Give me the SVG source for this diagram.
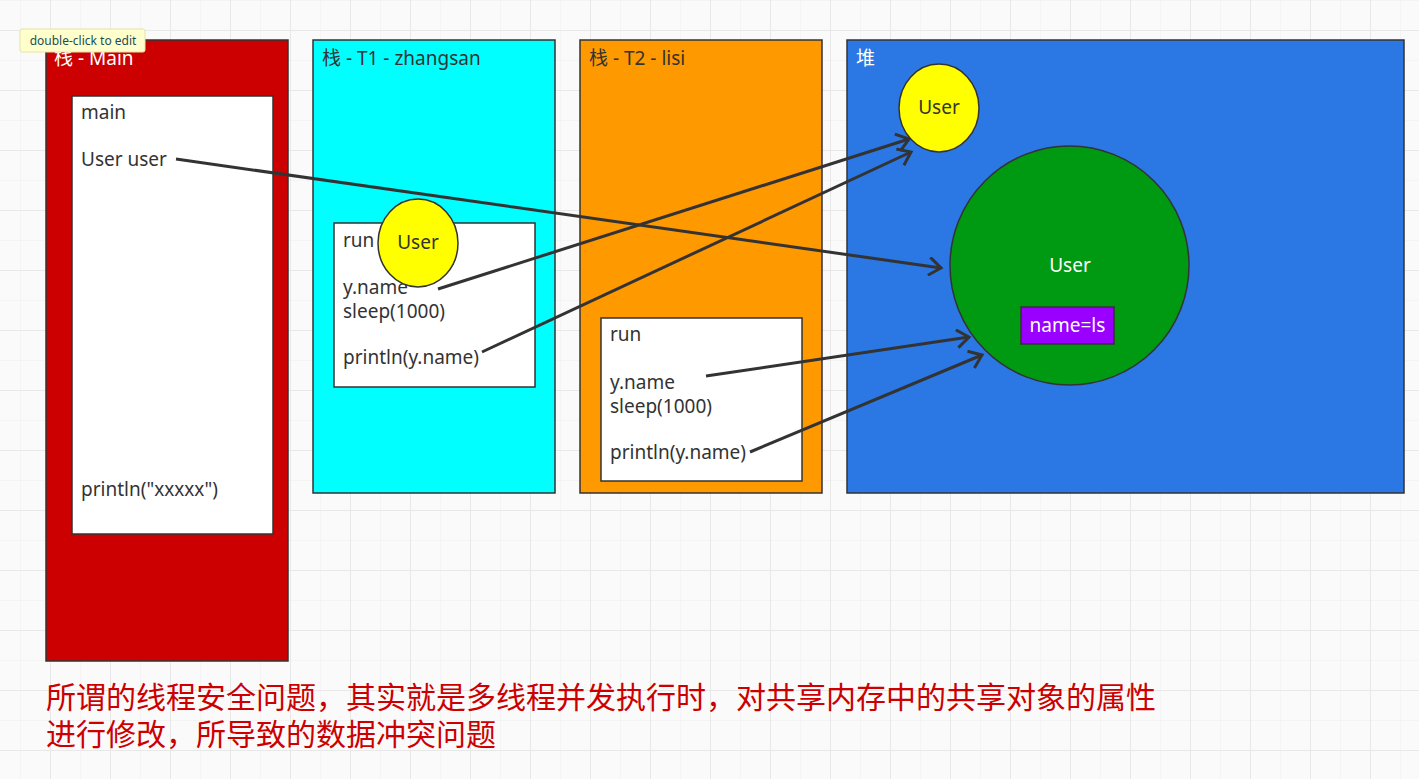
<svg xmlns="http://www.w3.org/2000/svg" width="1419" height="779" viewBox="0 0 1419 779">
<defs>
<pattern id="gMinor" x="20" y="0" width="30" height="30" patternUnits="userSpaceOnUse">
<path d="M0,0 V30 M0,0 H30" fill="none" stroke="#eeeeee" stroke-width="1"/>
</pattern>
<pattern id="gMajor" x="50" y="30" width="60" height="60" patternUnits="userSpaceOnUse">
<path d="M0,0 V60 M0,0 H60" fill="none" stroke="#e8e8e8" stroke-width="2"/>
</pattern>
<marker id="arr" viewBox="0 0 20 20" refX="17" refY="10" markerWidth="20" markerHeight="20" markerUnits="userSpaceOnUse" orient="auto">
<path d="M5,1 L17,10 L5,19" fill="none" stroke="#333333" stroke-width="3"/>
</marker>
</defs>
<style>
.box{stroke:#333333;stroke-width:1.5}
.t{font-family:"Noto Sans","Noto Sans CJK SC",sans-serif;font-size:19px;fill:#333333}
.w{fill:#ffffff}
.c{text-anchor:middle}
.conn{fill:none;stroke:#333333;stroke-width:3;marker-end:url(#arr)}
.cap{font-family:"Noto Sans CJK SC",sans-serif;font-size:30px;fill:#cc0000}
</style>
<rect width="1419" height="779" fill="#fafafa"/>
<rect width="1419" height="779" fill="url(#gMinor)"/>
<rect width="1419" height="779" fill="url(#gMajor)"/>

<g id="stack-main">
<rect class="box" x="46" y="40" width="242" height="621" fill="#cc0000"/>
<text class="t w" x="54" y="65">栈 - Main</text>
</g>
<g id="frame-main">
<rect class="box" x="72" y="96" width="201" height="438" fill="#ffffff"/>
<text class="t" x="81" y="119">main</text>
<text class="t" x="81" y="166">User user</text>
<text class="t" x="81" y="496">println("xxxxx")</text>
</g>

<g id="stack-t1">
<rect class="box" x="313" y="40" width="242" height="453" fill="#00ffff"/>
<text class="t" x="322" y="65">栈 - T1 - zhangsan</text>
</g>
<g id="frame-t1">
<rect class="box" x="334" y="223" width="201" height="164" fill="#ffffff"/>
<text class="t" x="343" y="247">run</text>
<text class="t" x="343" y="294">y.name</text>
<text class="t" x="343" y="318">sleep(1000)</text>
<text class="t" x="343" y="364">println(y.name)</text>
</g>
<g id="user-t1">
<ellipse class="box" cx="418" cy="243" rx="40" ry="44" fill="#ffff00"/>
<text class="t c" x="418" y="249">User</text>
</g>

<g id="stack-t2">
<rect class="box" x="580" y="40" width="242" height="453" fill="#ff9900"/>
<text class="t" x="589" y="65">栈 - T2 - lisi</text>
</g>
<g id="frame-t2">
<rect class="box" x="601" y="318" width="201" height="163" fill="#ffffff"/>
<text class="t" x="610" y="341">run</text>
<text class="t" x="610" y="389">y.name</text>
<text class="t" x="610" y="413">sleep(1000)</text>
<text class="t" x="610" y="459">println(y.name)</text>
</g>

<g id="heap">
<rect class="box" x="847" y="40" width="557" height="453" fill="#2b78e4"/>
<text class="t w" x="856" y="65">堆</text>
</g>
<g id="user-heap-small">
<ellipse class="box" cx="939" cy="108" rx="40" ry="44" fill="#ffff00"/>
<text class="t c" x="939" y="114">User</text>
</g>
<g id="user-heap">
<circle class="box" cx="1069.5" cy="265.5" r="119.5" fill="#009912"/>
<text class="t w c" x="1070" y="272">User</text>
</g>
<g id="name-field">
<rect class="box" x="1021" y="307" width="93" height="37" fill="#9900ff"/>
<text class="t w c" x="1067.5" y="332">name=ls</text>
</g>

<g id="connectors">
<line class="conn" x1="176" y1="159" x2="941" y2="268"/>
<line class="conn" x1="438" y1="289" x2="909" y2="139"/>
<line class="conn" x1="482" y1="352" x2="911" y2="152"/>
<line class="conn" x1="706" y1="376" x2="969" y2="337"/>
<line class="conn" x1="750" y1="452" x2="982" y2="355"/>
</g>

<g id="caption">
<text class="cap" x="46" y="708">所谓的线程安全问题，其实就是多线程并发执行时，对共享内存中的共享对象的属性</text>
<text class="cap" x="46" y="745">进行修改，所导致的数据冲突问题</text>
</g>

<g id="tooltip">
<rect x="20" y="29" width="125" height="23" rx="2" fill="#ffffcc" stroke="#e6e2a8" stroke-width="1"/>
<text x="83" y="44.5" text-anchor="middle" font-family="'Noto Sans',sans-serif" font-size="12" fill="#1b4d55">double-click to edit</text>
</g>
</svg>
